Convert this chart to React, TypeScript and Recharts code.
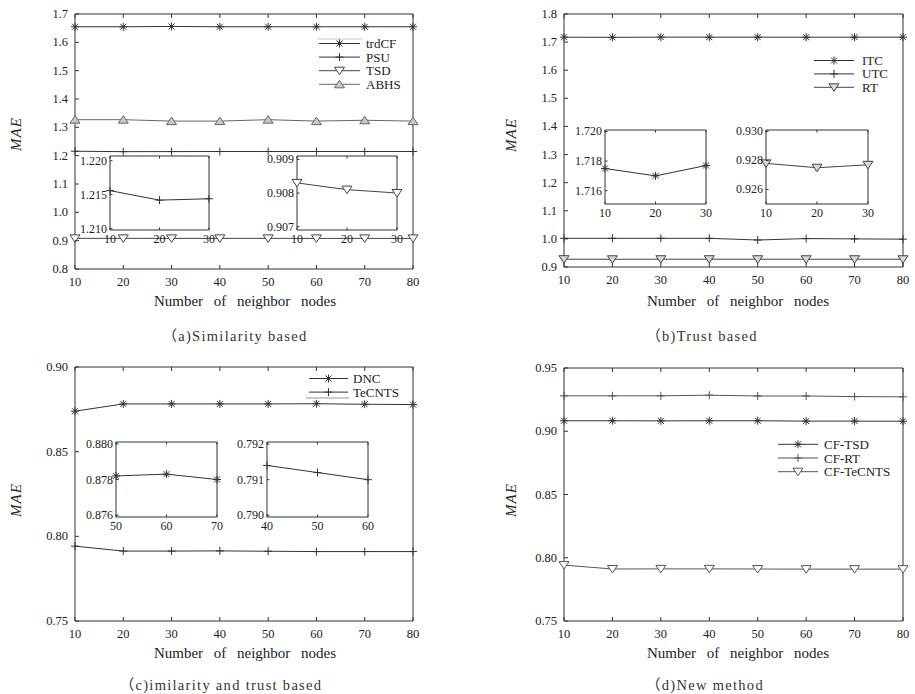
import React from "react"
import { LineChart, Line, XAxis, YAxis } from "recharts"

const FONT = "Liberation Serif, Times New Roman, serif"
const CAPTION_FONT = "Liberation Serif, Noto Sans CJK SC, serif"
const INK = "#333"

// number of neighbor nodes
const neighbors = [10, 20, 30, 40, 50, 60, 70, 80]
const xTicksMain = [10, 20, 30, 40, 50, 60, 70, 80]

// (a) similarity based
const trdCF = [1.655, 1.655, 1.656, 1.655, 1.655, 1.655, 1.655, 1.655]
const psu = [1.2156, 1.2142, 1.2144, 1.2146, 1.2148, 1.2147, 1.2148, 1.2148]
const tsd = [0.9083, 0.9081, 0.908, 0.9081, 0.9081, 0.908, 0.908, 0.908]
const abhs = [1.327, 1.327, 1.322, 1.322, 1.327, 1.322, 1.325, 1.322]

// (b) trust based
const itc = [1.7175, 1.717, 1.7177, 1.7176, 1.7176, 1.7174, 1.7176, 1.7176]
const utc = [1.002, 1.002, 1.002, 1.002, 0.996, 1.001, 1.0, 0.999]
const rt = [0.9278, 0.9275, 0.9277, 0.9278, 0.9277, 0.9276, 0.9276, 0.9276]

// (c) similarity and trust based
const dnc = [0.8739, 0.8782, 0.8782, 0.8782, 0.8782, 0.8783, 0.878, 0.8778]
const tecnts = [0.7942, 0.7913, 0.7913, 0.7914, 0.7912, 0.791, 0.791, 0.791]

// (d) new method
const cfTsd = [0.9083, 0.9083, 0.9082, 0.9083, 0.9083, 0.908, 0.908, 0.9079]
const cfRt = [0.928, 0.928, 0.928, 0.9285, 0.9279, 0.9279, 0.9274, 0.9272]
const cfTecnts = [0.7942, 0.7911, 0.7912, 0.7912, 0.7911, 0.791, 0.791, 0.791]

// y ticks
const yTicksA = [0.8, 0.9, 1.0, 1.1, 1.2, 1.3, 1.4, 1.5, 1.6, 1.7]
const yTicksB = [0.9, 1.0, 1.1, 1.2, 1.3, 1.4, 1.5, 1.6, 1.7, 1.8]
const yTicksC = [0.75, 0.8, 0.85, 0.9]
const yTicksD = [0.75, 0.8, 0.85, 0.9, 0.95]

type Marker = "star" | "plus" | "down" | "up"
type Series = { key: string; name: string; values: number[]; marker: Marker; stroke: string; fill?: string }

const drawMarker = (kind: Marker, cx: number, cy: number, stroke: string, fill = "#fff", key?: any) => {
  if (kind === "star") {
    const r = 4, d = 3
    return (
      <g key={key} stroke={stroke} strokeWidth={1}>
        <line x1={cx - r} x2={cx + r} y1={cy} y2={cy} />
        <line x1={cx} x2={cx} y1={cy - r} y2={cy + r} />
        <line x1={cx - d} x2={cx + d} y1={cy - d} y2={cy + d} />
        <line x1={cx - d} x2={cx + d} y1={cy + d} y2={cy - d} />
      </g>
    )
  }
  if (kind === "plus") {
    return (
      <g key={key} stroke={stroke} strokeWidth={1}>
        <line x1={cx - 4} x2={cx + 4} y1={cy} y2={cy} />
        <line x1={cx} x2={cx} y1={cy - 4} y2={cy + 4} />
      </g>
    )
  }
  if (kind === "down") {
    return <polygon key={key} points={`${cx - 5},${cy - 3.5} ${cx + 5},${cy - 3.5} ${cx},${cy + 4}`} fill={fill} stroke={stroke} />
  }
  return <polygon key={key} points={`${cx - 5},${cy + 3.5} ${cx + 5},${cy + 3.5} ${cx},${cy - 4}`} fill={fill} stroke={stroke} />
}

type Box = { x: number; y: number; w: number; h: number }
type Plot = { l: number; r: number; t: number; b: number }

interface PanelProps {
  box: Box
  plot: Plot
  xs: number[]
  xTicks: number[]
  yDomain: [number, number]
  yTicks: number[]
  digits: number
  series: Series[]
  tickLen: number
  fontSize: number
  labelGap: number
  xLabelDy: number
}

const Panel: React.FC<PanelProps> = ({ box, plot, xs, xTicks, yDomain, yTicks, digits, series, tickLen, fontSize, labelGap, xLabelDy }) => {
  const L = plot.l - box.x
  const R = plot.r - box.x
  const T = plot.t - box.y
  const B = plot.b - box.y
  const YW = 30, XH = 20, TH = 2, RW = 2
  const margin = { left: L - YW, right: box.w - R - RW, top: T - TH, bottom: box.h - B - XH }
  const xDomain: [number, number] = [xTicks[0], xTicks[xTicks.length - 1]]
  const data = xs.map((x, i) => {
    const row: any = { x }
    series.forEach((s) => (row[s.key] = s.values[i]))
    return row
  })
  const txt = { fontFamily: FONT, fontSize }

  const bottomTick = (p: any) => (
    <g>
      <line x1={p.x} x2={p.x} y1={B} y2={B - tickLen} stroke={INK} />
      <text x={p.x} y={B + xLabelDy} textAnchor="middle" style={txt} fill="#222">
        {p.payload.value}
      </text>
    </g>
  )
  const topTick = (p: any) => <line x1={p.x} x2={p.x} y1={T} y2={T + tickLen} stroke={INK} />
  const leftTick = (p: any) => (
    <g>
      <line x1={L} x2={L + tickLen} y1={p.y} y2={p.y} stroke={INK} />
      <text x={L - labelGap} y={p.y + 4} textAnchor="end" style={txt} fill="#222">
        {Number(p.payload.value).toFixed(digits)}
      </text>
    </g>
  )
  const rightTick = (p: any) => <line x1={R} x2={R - tickLen} y1={p.y} y2={p.y} stroke={INK} />

  return (
    <div style={{ position: "absolute", left: box.x, top: box.y, width: box.w, height: box.h }}>
      <LineChart width={box.w} height={box.h} data={data} margin={margin}>
        <XAxis xAxisId="b" dataKey="x" type="number" domain={xDomain} ticks={xTicks} interval={0} height={XH}
          tickSize={0} tickMargin={0} tickLine={false} axisLine={{ stroke: INK }} tick={bottomTick} />
        <XAxis xAxisId="t" orientation="top" dataKey="x" type="number" domain={xDomain} ticks={xTicks} interval={0} height={TH}
          tickSize={0} tickMargin={0} tickLine={false} axisLine={{ stroke: INK }} tick={topTick} />
        <YAxis yAxisId="l" type="number" domain={yDomain} ticks={yTicks} interval={0} width={YW}
          tickSize={0} tickMargin={0} tickLine={false} axisLine={{ stroke: INK }} tick={leftTick} />
        <YAxis yAxisId="r" orientation="right" type="number" domain={yDomain} ticks={yTicks} interval={0} width={RW}
          tickSize={0} tickMargin={0} tickLine={false} axisLine={{ stroke: INK }} tick={rightTick} />
        {series.map((s) => (
          <Line
            key={s.key}
            xAxisId="b"
            yAxisId="l"
            dataKey={s.key}
            type="linear"
            stroke={s.stroke}
            strokeWidth={1}
            isAnimationActive={false}
            activeDot={false}
            dot={(p: any) => drawMarker(s.marker, p.cx, p.cy, s.stroke, s.fill, p.index)}
          />
        ))}
      </LineChart>
    </div>
  )
}

const sA: Series[] = [
  { key: "trdCF", name: "trdCF", values: trdCF, marker: "star", stroke: "#333" },
  { key: "psu", name: "PSU", values: psu, marker: "plus", stroke: "#333" },
  { key: "tsd", name: "TSD", values: tsd, marker: "down", stroke: "#444", fill: "#fff" },
  { key: "abhs", name: "ABHS", values: abhs, marker: "up", stroke: "#666", fill: "#c8c8c8" },
]
const sB: Series[] = [
  { key: "itc", name: "ITC", values: itc, marker: "star", stroke: "#333" },
  { key: "utc", name: "UTC", values: utc, marker: "plus", stroke: "#333" },
  { key: "rt", name: "RT", values: rt, marker: "down", stroke: "#444", fill: "#d8d8d8" },
]
const sC: Series[] = [
  { key: "dnc", name: "DNC", values: dnc, marker: "star", stroke: "#333" },
  { key: "tecnts", name: "TeCNTS", values: tecnts, marker: "plus", stroke: "#333" },
]
const sD: Series[] = [
  { key: "cfTsd", name: "CF-TSD", values: cfTsd, marker: "star", stroke: "#333" },
  { key: "cfRt", name: "CF-RT", values: cfRt, marker: "plus", stroke: "#555" },
  { key: "cfTecnts", name: "CF-TeCNTS", values: cfTecnts, marker: "down", stroke: "#555", fill: "#fff" },
]

const pick = (s: Series, from: number, to: number): Series => ({ ...s, values: s.values.slice(from, to) })

const mainProps = { xs: neighbors, xTicks: xTicksMain, tickLen: 4, fontSize: 12.5, labelGap: 7, xLabelDy: 17 }
const insetProps = { tickLen: 2.5, fontSize: 12, labelGap: 3, xLabelDy: 13 }

const insetBox = (p: Plot): Box => ({ x: p.l - 45, y: p.t - 10, w: p.r - p.l + 60, h: p.b - p.t + 35 })

type LegendItem = { name: string; marker: Marker; stroke: string; fill?: string }
const LegendBlock = ({ x1, x2, tx, y0, dy, items }: { x1: number; x2: number; tx: number; y0: number; dy: number; items: LegendItem[] }) => (
  <g>
    {items.map((it, i) => {
      const y = y0 + i * dy
      return (
        <g key={it.name}>
          <line x1={x1} x2={x2} y1={y} y2={y} stroke={it.stroke} />
          {drawMarker(it.marker, (x1 + x2) / 2, y, it.stroke, it.fill)}
          <text x={tx} y={y + 4.5} style={{ fontFamily: FONT, fontSize: 13 }} fill="#222">{it.name}</text>
        </g>
      )
    })}
  </g>
)

const axisTitle = "Number of neighbor nodes"
const capStyle = { fontFamily: CAPTION_FONT, fontSize: 14.5, letterSpacing: 1.3 }

export default function App() {
  const pa1: Plot = { l: 110, r: 209, t: 156, b: 230 }
  const pa2: Plot = { l: 297, r: 397, t: 156, b: 230 }
  const pb1: Plot = { l: 605, r: 706, t: 130, b: 204 }
  const pb2: Plot = { l: 766, r: 868, t: 130, b: 204 }
  const pc1: Plot = { l: 116, r: 217, t: 442, b: 517 }
  const pc2: Plot = { l: 267, r: 368, t: 442, b: 517 }

  return (
    <div style={{ position: "absolute", left: 0, top: 0, width: 915, height: 694, background: "#fff", overflow: "hidden" }}>
      {/* main panels */}
      <Panel {...mainProps} box={{ x: 0, y: 0, w: 455, h: 300 }} plot={{ l: 75, r: 413, t: 14, b: 269 }}
        yDomain={[0.8, 1.7]} yTicks={yTicksA} digits={1} series={sA} />
      <Panel {...mainProps} box={{ x: 455, y: 0, w: 460, h: 300 }} plot={{ l: 564, r: 903, t: 14, b: 267 }}
        yDomain={[0.9, 1.8]} yTicks={yTicksB} digits={1} series={sB} />
      <Panel {...mainProps} box={{ x: 0, y: 340, w: 455, h: 310 }} plot={{ l: 75, r: 413, t: 367, b: 621 }}
        yDomain={[0.75, 0.9]} yTicks={yTicksC} digits={2} series={sC} />
      <Panel {...mainProps} box={{ x: 455, y: 340, w: 460, h: 310 }} plot={{ l: 564, r: 903, t: 368, b: 621 }}
        yDomain={[0.75, 0.95]} yTicks={yTicksD} digits={2} series={sD} />

      {/* zoomed insets */}
      <Panel {...insetProps} box={insetBox(pa1)} plot={pa1} xs={neighbors.slice(0, 3)} xTicks={[10, 20, 30]}
        yDomain={[1.2098, 1.2207]} yTicks={[1.21, 1.215, 1.22]} digits={3} series={[pick(sA[1], 0, 3)]} />
      <Panel {...insetProps} box={insetBox(pa2)} plot={pa2} xs={neighbors.slice(0, 3)} xTicks={[10, 20, 30]}
        yDomain={[0.9069, 0.9091]} yTicks={[0.907, 0.908, 0.909]} digits={3} series={[pick(sA[2], 0, 3)]} />
      <Panel {...insetProps} box={insetBox(pb1)} plot={pb1} xs={neighbors.slice(0, 3)} xTicks={[10, 20, 30]}
        yDomain={[1.7151, 1.7201]} yTicks={[1.716, 1.718, 1.72]} digits={3} series={[pick(sB[0], 0, 3)]} />
      <Panel {...insetProps} box={insetBox(pb2)} plot={pb2} xs={neighbors.slice(0, 3)} xTicks={[10, 20, 30]}
        yDomain={[0.925, 0.9301]} yTicks={[0.926, 0.928, 0.93]} digits={3} series={[pick(sB[2], 0, 3)]} />
      <Panel {...insetProps} box={insetBox(pc1)} plot={pc1} xs={neighbors.slice(4, 7)} xTicks={[50, 60, 70]}
        yDomain={[0.8759, 0.8801]} yTicks={[0.876, 0.878, 0.88]} digits={3} series={[pick(sC[0], 4, 7)]} />
      <Panel {...insetProps} box={insetBox(pc2)} plot={pc2} xs={neighbors.slice(3, 6)} xTicks={[40, 50, 60]}
        yDomain={[0.78995, 0.79206]} yTicks={[0.79, 0.791, 0.792]} digits={3} series={[pick(sC[1], 3, 6)]} />

      {/* legends, axis titles and captions */}
      <svg width={915} height={694} style={{ position: "absolute", left: 0, top: 0, pointerEvents: "none" }}>
        <line x1={317} x2={362} y1={39} y2={39} stroke="#c8c8c8" />
        <LegendBlock x1={319} x2={360} tx={366} y0={43.5} dy={13.6} items={sA} />
        <LegendBlock x1={814} x2={854} tx={862} y0={60.5} dy={13.4} items={sB} />
        <LegendBlock x1={309} x2={348} tx={353} y0={378.5} dy={13.6} items={sC} />
        <line x1={306} x2={349} y1={398} y2={398} stroke="#999" />
        <LegendBlock x1={778} x2={818} tx={824} y0={444.3} dy={13.7} items={sD} />

        {[
          [16, 134],
          [511, 135],
          [16, 500],
          [511, 500],
        ].map(([x, y]) => (
          <text key={`${x}-${y}`} x={x} y={y} transform={`rotate(-90 ${x} ${y})`} dy={5} textAnchor="middle"
            style={{ fontFamily: FONT, fontStyle: "italic", fontSize: 15, letterSpacing: 1 }} fill="#222">
            MAE
          </text>
        ))}

        {[
          [245, 306],
          [738, 306],
          [245, 658],
          [738, 658],
        ].map(([x, y]) => (
          <text key={`t${x}-${y}`} x={x} y={y} textAnchor="middle" style={{ fontFamily: FONT, fontSize: 15, wordSpacing: 7 }} fill="#222">
            {axisTitle}
          </text>
        ))}

        <text x={235} y={341} textAnchor="middle" style={capStyle} fill="#333">（a)Similarity based</text>
        <text x={702} y={341} textAnchor="middle" style={capStyle} fill="#333">（b)Trust based</text>
        <text x={221} y={690} textAnchor="middle" style={capStyle} fill="#333">（c)imilarity and trust based</text>
        <text x={705} y={690} textAnchor="middle" style={capStyle} fill="#333">（d)New method</text>
      </svg>
    </div>
  )
}
